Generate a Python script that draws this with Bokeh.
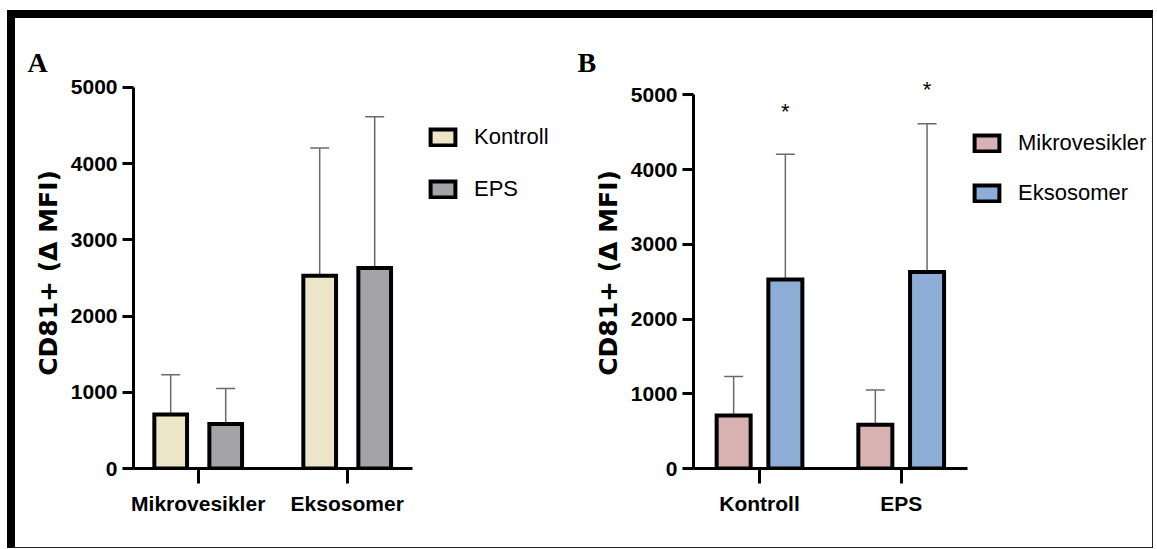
from bokeh.plotting import figure
from bokeh.models import (Range1d, FixedTicker, Whisker, TeeHead, ColumnDataSource,
                          Legend, LegendItem)
from bokeh.layouts import row
from bokeh.embed import file_html
from bokeh.resources import INLINE
from bokeh.core.properties import value

# ---------------- data ----------------
vesicles = ["Mikrovesikler", "Eksosomer"]
treatments = ["Kontroll", "EPS"]
kontroll_mean = [710, 2530]      # CD81+ (ΔMFI), per vesicle type
eps_mean = [585, 2630]
kontroll_sd = [520, 1675]
eps_sd = [465, 1985]
y_ticks = [0, 1000, 2000, 3000, 4000, 5000]
star_y = [4775, 5075]            # '*' markers above Eksosomer bars (panel B)
colors_A = ["#ECE5C8", "#A3A3A8"]   # Kontroll, EPS
colors_B = ["#D8B2B1", "#8CADD5"]   # Mikrovesikler, Eksosomer

TICK_FONT = "Liberation Sans"
LABEL_FONT = "DejaVu Sans"


def make_panel(width, height, borders, xr, axis_end, y_end, groups, series_names,
               series_vals, series_err, colors, offset, bar_w, letter, letter_off,
               legend_loc, legend_spacing):
    p = figure(width=width, height=height, output_backend="svg", toolbar_location=None,
               x_range=Range1d(*xr), y_range=Range1d(0, y_end),
               min_border_left=borders[0], min_border_right=borders[1],
               min_border_top=borders[2], min_border_bottom=borders[3])
    p.outline_line_color = None
    p.xgrid.visible = False
    p.ygrid.visible = False

    # panel letter
    p.title.text = letter
    p.title.align = "left"
    p.title.offset = letter_off
    p.title.standoff = 0
    p.title.text_font = "Liberation Serif"
    p.title.text_font_style = "bold"
    p.title.text_font_size = "28px"
    p.title.text_color = "black"

    pos = [i + 1 for i in range(len(groups))]
    items = []
    for k, name in enumerate(series_names):
        off = -offset if k == 0 else offset
        xs = [x + off for x in pos]
        src = ColumnDataSource(dict(x=xs, top=series_vals[k],
                                    upper=[v + e for v, e in zip(series_vals[k], series_err[k])]))
        w = Whisker(source=src, base="x", lower="top", upper="upper",
                    line_color="#6a6a6a", line_width=1.5,
                    upper_head=TeeHead(size=19, line_color="#6a6a6a", line_width=1.5),
                    lower_head=None)
        p.add_layout(w)
        r = p.vbar(x="x", top="top", bottom=0, width=bar_w, source=src,
                   fill_color=colors[k], line_color="black", line_width=4,
                   line_join="miter")
        items.append(LegendItem(label=name, renderers=[r]))

    # axes
    p.yaxis.ticker = FixedTicker(ticks=y_ticks)
    p.yaxis.bounds = (0, 5000)
    p.yaxis.axis_line_width = 3
    p.yaxis.major_tick_line_width = 3
    p.yaxis.major_tick_out = 11
    p.yaxis.major_tick_in = 0
    p.yaxis.minor_tick_line_color = None
    p.yaxis.major_label_standoff = 5
    p.yaxis.major_label_text_font = TICK_FONT
    p.yaxis.major_label_text_font_style = "bold"
    p.yaxis.major_label_text_font_size = "21px"
    p.yaxis.major_label_text_color = "black"
    p.yaxis.axis_label = "CD81+ (Δ MFI)"
    p.yaxis.axis_label_text_font = LABEL_FONT
    p.yaxis.axis_label_text_font_style = "bold"
    p.yaxis.axis_label_text_font_size = "25px"
    p.yaxis.axis_label_text_color = "black"
    p.yaxis.axis_label_standoff = 5

    p.xaxis.ticker = FixedTicker(ticks=pos)
    p.xaxis.major_label_overrides = {x: g for x, g in zip(pos, groups)}
    p.xaxis.bounds = (xr[0], axis_end)
    p.xaxis.axis_line_width = 3
    p.xaxis.major_tick_line_width = 3
    p.xaxis.major_tick_out = 15
    p.xaxis.major_tick_in = 0
    p.xaxis.minor_tick_line_color = None
    p.xaxis.major_label_standoff = 8
    p.xaxis.major_label_text_font = TICK_FONT
    p.xaxis.major_label_text_font_style = "bold"
    p.xaxis.major_label_text_font_size = "21px"
    p.xaxis.major_label_text_color = "black"

    legend = Legend(items=items, location=legend_loc, orientation="vertical",
                    glyph_width=31, glyph_height=20, label_height=30,
                    label_standoff=16, spacing=legend_spacing, padding=0, margin=0,
                    border_line_color=None, background_fill_alpha=0,
                    label_text_font=TICK_FONT, label_text_font_size="22px",
                    label_text_color="black")
    p.add_layout(legend)
    return p


H = 529
# Panel A: grouped by vesicle type, series = treatment
pA = make_panel(550, H, (118, 5, 59, 79), (0.5658, 3.4316), 2.436, 5131,
                vesicles, treatments, [kontroll_mean, eps_mean], [kontroll_sd, eps_sd],
                colors_A, 0.1846, 0.2195, "A", -106, (294, 264), 22)

# Panel B: grouped by treatment, series = vesicle type
mikro_vals = [kontroll_mean[0], eps_mean[0]]
ekso_vals = [kontroll_mean[1], eps_mean[1]]
mikro_err = [kontroll_sd[0], eps_sd[0]]
ekso_err = [kontroll_sd[1], eps_sd[1]]
pB = make_panel(587, H, (128, 0, 59, 79), (0.5342, 3.7735), 2.470, 5234,
                treatments, vesicles, [mikro_vals, ekso_vals], [mikro_err, ekso_err],
                colors_B, 0.1825, 0.24, "B", -116, (278, 260), 20)

star_src = ColumnDataSource(dict(x=[x + 1 + 0.1825 for x in range(len(treatments))],
                                 y=star_y, t=["*"] * len(star_y)))
pB.text(x="x", y="y", text="t", source=star_src, text_align="center",
        text_baseline="middle", text_font=value("Liberation Sans"),
        text_font_size="22px", text_color="black")

layout = row(pA, pB, spacing=0,
             styles={"border-top": "8px solid black", "border-left": "8px solid black",
                     "border-right": "1px solid #222", "border-bottom": "1px solid #222",
                     "margin-top": "10px", "margin-left": "7px",
                     "background-color": "white"})

open("out.html", "w").write(file_html(layout, INLINE))
